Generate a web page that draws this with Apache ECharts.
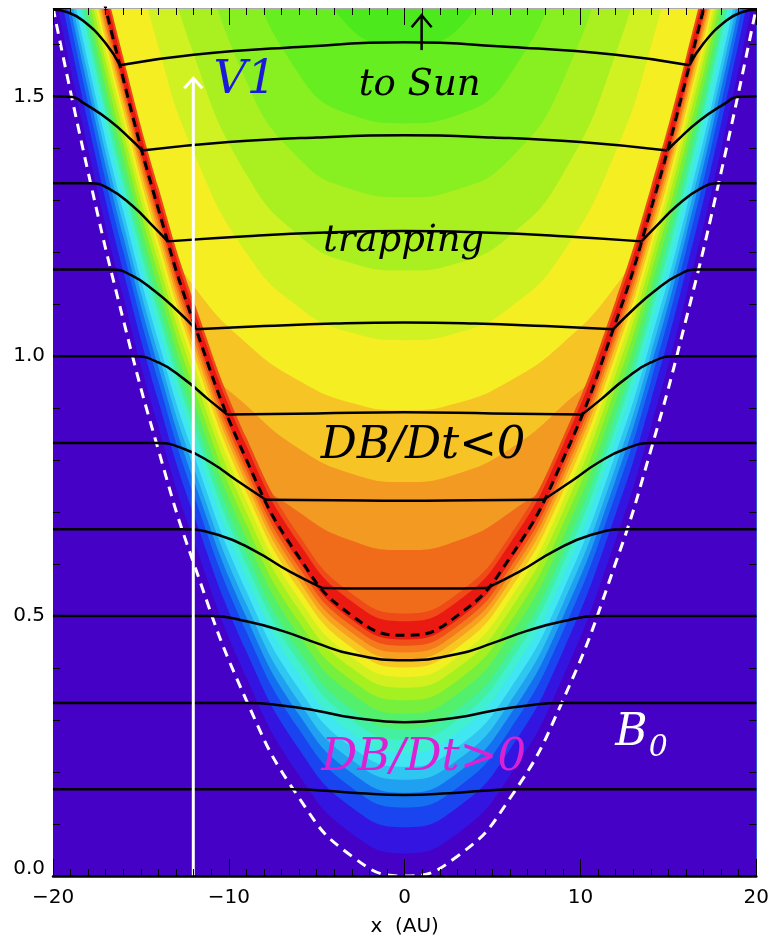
<!DOCTYPE html>
<html><head><meta charset="utf-8">
<script src="https://cdn.jsdelivr.net/npm/echarts@6/dist/echarts.min.js"></script>
<style>html,body{margin:0;padding:0;background:#fff}#c{width:772px;height:942px}</style>
</head><body><div id="c"></div>
<script>
// ---------- data ----------
// x positions (AU) at which each symmetric contour is sampled (right half, mirrored for left)
const halfX = [0, 3, 6, 9, 12, 14, 16, 18, 20];
// white dashed outer boundary
const outerBoundaryY = [0, 0.038, 0.150, 0.338, 0.602, 0.819, 1.070, 1.354, 1.671];
// black dashed trapping boundary
const trapBoundaryY = [0.463, 0.501, 0.613, 0.801, 1.065, 1.282, 1.533, 1.817, 2.134];
// contour levels of the shell between the boundaries (innermost first)
const shellY = [
  [0.505, 0.543, 0.655, 0.843, 1.107, 1.324, 1.575, 1.859, 2.176],
  [0.490, 0.528, 0.640, 0.828, 1.092, 1.309, 1.560, 1.844, 2.161],
  [0.455, 0.493, 0.605, 0.793, 1.057, 1.274, 1.525, 1.809, 2.126],
  [0.443, 0.481, 0.593, 0.781, 1.045, 1.262, 1.513, 1.797, 2.114],
  [0.430, 0.468, 0.580, 0.768, 1.032, 1.249, 1.500, 1.784, 2.101],
  [0.417, 0.455, 0.567, 0.755, 1.019, 1.236, 1.487, 1.771, 2.088],
  [0.401, 0.439, 0.551, 0.739, 1.003, 1.220, 1.471, 1.755, 2.072],
  [0.383, 0.421, 0.533, 0.721, 0.985, 1.202, 1.453, 1.737, 2.054],
  [0.362, 0.400, 0.512, 0.700, 0.964, 1.181, 1.432, 1.716, 2.033],
  [0.338, 0.376, 0.488, 0.676, 0.940, 1.157, 1.408, 1.692, 2.009],
  [0.312, 0.350, 0.462, 0.650, 0.914, 1.131, 1.382, 1.666, 1.983],
  [0.283, 0.321, 0.433, 0.621, 0.885, 1.102, 1.353, 1.637, 1.954],
  [0.262, 0.300, 0.412, 0.600, 0.864, 1.081, 1.332, 1.616, 1.933],
  [0.237, 0.275, 0.387, 0.575, 0.839, 1.056, 1.307, 1.591, 1.908],
  [0.210, 0.248, 0.360, 0.548, 0.812, 1.029, 1.280, 1.564, 1.881],
  [0.185, 0.223, 0.335, 0.523, 0.787, 1.004, 1.255, 1.539, 1.856],
  [0.160, 0.198, 0.310, 0.498, 0.762, 0.979, 1.230, 1.514, 1.831],
  [0.132, 0.170, 0.282, 0.470, 0.734, 0.951, 1.202, 1.486, 1.803],
  [0.094, 0.132, 0.244, 0.432, 0.696, 0.913, 1.164, 1.448, 1.765],
  [0.044, 0.082, 0.194, 0.382, 0.646, 0.863, 1.114, 1.398, 1.715]
];
// contour levels inside the trapping region (lowest first)
const coreY = [
  [0.627, 0.645, 0.700, 0.790, 1.000, 1.200, 1.440, 1.720, 2.030],
  [0.758, 0.774, 0.822, 0.905, 1.010, 1.200, 1.440, 1.720, 2.030],
  [0.896, 0.910, 0.953, 1.025, 1.135, 1.250, 1.460, 1.730, 2.040],
  [1.031, 1.045, 1.094, 1.199, 1.393, 1.595, 1.875, 2.254, 2.754],
  [1.165, 1.179, 1.232, 1.350, 1.581, 1.830, 2.182, 2.650, 3.310],
  [1.306, 1.321, 1.380, 1.529, 1.843, 2.195, 2.700, 3.400, 4.100],
  [1.448, 1.464, 1.542, 1.772, 2.303, 2.900, 3.600, 4.300, 5.000],
  [1.600, 1.628, 1.887, 2.500, 3.300, 4.000, 4.700, 5.400, 6.100]
];
// field lines: left flank up to the boundary, inner part (left half), and low lines
const fieldOuter = [
  [[-20,1.667],[-19.2,1.662],[-18.3,1.646],[-17.0,1.602],[-16.2,1.56]],
  [[-20,1.5],[-18.9,1.499],[-18.3,1.488],[-16.8,1.454],[-15.5,1.415],[-14.94,1.396]],
  [[-20,1.333],[-17.9,1.333],[-16.8,1.322],[-15.5,1.29],[-14.3,1.25],[-13.47,1.221]],
  [[-20,1.167],[-16.7,1.167],[-15.5,1.155],[-14.2,1.125],[-13,1.09],[-11.87,1.052]],
  [[-20,1.0],[-15.5,1.0],[-14,0.988],[-12.5,0.955],[-11.2,0.918],[-10.09,0.888]],
  [[-20,0.833],[-14.1,0.833],[-12.5,0.821],[-11,0.795],[-9.5,0.76],[-7.9,0.724]],
  [[-20,0.667],[-12.65,0.667],[-10.5,0.655],[-8.5,0.625],[-6.5,0.585],[-4.67,0.554]]
];
const fieldInner = [
  [[-16.2,1.56],[-12,1.58],[-6,1.595],[0,1.604]],
  [[-14.94,1.396],[-10,1.412],[-5,1.421],[0,1.425]],
  [[-13.47,1.221],[-9,1.231],[-4.5,1.238],[0,1.241]],
  [[-11.87,1.052],[-8,1.058],[-4,1.063],[0,1.065]],
  [[-10.09,0.888],[-5,0.890],[0,0.892]],
  [[-7.9,0.724],[-4,0.723],[0,0.722]],
  [[-4.67,0.554],[-2,0.553],[0,0.553]]
];
const fieldLow = [
  [[-20,0.5],[-10.95,0.5],[-9,0.49],[-7,0.472],[-5,0.448],[-3,0.427],[0,0.415]],
  [[-20,0.333],[-8.94,0.333],[-7,0.328],[-5,0.318],[-3,0.305],[0,0.296]],
  [[-20,0.167],[-6.3,0.167],[-4.5,0.164],[-2.5,0.159],[0,0.156]]
];
// arrows: [x, yStart, yTip]
const arrowV1 = [-12.02, 0, 1.535];
const arrowSun = [0.966, 1.589, 1.656];
// annotations
const labelTexts = ['V1', 'to Sun', 'trapping', 'DB/Dt<0', 'DB/Dt>0', 'B', '0'];
const labelAnchors = [[-9.09,1.530],[0.85,1.521],[-0.06,1.221],[1.05,0.827],[1.08,0.226],[12.9,0.274],[14.43,0.246]];
// axes
const xTickValues = [-20, -10, 0, 10, 20];
const xTickLabels = ['\u221220', '\u221210', '0', '10', '20'];
const yTickValues = [0, 0.5, 1.0, 1.5];
const yTickLabels = ['0.0', '0.5', '1.0', '1.5'];

// ---------- styles ----------
const coreBaseColor = '#F06C1A';
const coreColors = ['#F29A22','#F7C426','#F4EE22','#D0F222','#AAF020','#88F020','#66EE20','#4CEA1C'];
const shellColors = ['#F04A18','#EA1A12','#F05018','#F47A1C','#F8A020','#F8C822','#F2F020','#D0F020','#A4F020','#76F03C','#52F06C','#42F0A0','#40F0D0','#40E6F2','#30C6F2','#20A0F0','#1470F0','#1A44F0','#3414E0','#4502C6'];
const labelStyles = [
  {font:'italic 46px "DejaVu Serif"', fill:'#1A1AD8'},
  {font:'italic 37px "DejaVu Serif"', fill:'#000'},
  {font:'italic 37px "DejaVu Serif"', fill:'#000'},
  {font:'italic 45px "DejaVu Serif"', fill:'#000'},
  {font:'italic 45px "DejaVu Serif"', fill:'#DA22D4'},
  {font:'italic 44px "DejaVu Serif"', fill:'#fff'},
  {font:'italic 30px "DejaVu Serif"', fill:'#fff'}
];

// ---------- helpers ----------
function profile(ys) {
  const pts = [];
  for (let i = halfX.length - 1; i > 0; i--) pts.push([-halfX[i], ys[i]]);
  for (let i = 0; i < halfX.length; i++) pts.push([halfX[i], ys[i]]);
  return pts;
}
function mirror(pts) { return pts.map(p => [-p[0], p[1]]).reverse(); }
function full(pts) { return pts.concat(mirror(pts).slice(1)); }

const series = [];
let zc = 1;
coreY.forEach((ys, i) => series.push({
  type: 'line', data: profile(ys), smooth: 0.5, symbol: 'none', silent: true, z: zc++,
  lineStyle: {width: 0, opacity: 0}, areaStyle: {color: coreColors[i], opacity: 1, origin: 'end'}
}));
shellY.forEach((ys, i) => series.push({
  type: 'line', data: profile(ys), smooth: 0.5, symbol: 'none', silent: true, z: zc++,
  lineStyle: {width: 0, opacity: 0}, areaStyle: {color: shellColors[i], opacity: 1, origin: 'start'}
}));
series.push({type:'line', data: profile(outerBoundaryY), smooth: 0.5, symbol:'none', silent:true, z: 35,
  lineStyle:{color:'#fff', width:3, type:[10,7]}});
series.push({type:'line', data: profile(trapBoundaryY), smooth: 0.5, symbol:'none', silent:true, z: 36,
  lineStyle:{color:'#000', width:3, type:[9,6]}});
const fl = {type:'line', smooth: 0.5, symbol:'none', silent:true, z: 40, lineStyle:{color:'#000', width:2.5}};
fieldOuter.forEach(p => { series.push(Object.assign({}, fl, {data: p})); series.push(Object.assign({}, fl, {data: mirror(p)})); });
fieldInner.forEach(p => series.push(Object.assign({}, fl, {data: full(p)})));
fieldLow.forEach(p => series.push(Object.assign({}, fl, {data: full(p)})));

function arrowSeries(a, color, width, hw, hh) {
  return {type:'custom', coordinateSystem:'cartesian2d', data:[a], z: 45, silent: true,
    renderItem: (params, api) => {
      const p0 = api.coord([api.value(0), api.value(1)]);
      const p1 = api.coord([api.value(0), api.value(2)]);
      return {type:'group', children:[
        {type:'line', shape:{x1:p0[0], y1:p0[1], x2:p1[0], y2:p1[1]}, style:{stroke:color, lineWidth:width}},
        {type:'polyline', shape:{points:[[p1[0]-hw, p1[1]+hh],[p1[0], p1[1]],[p1[0]+hw, p1[1]+hh]]}, style:{stroke:color, lineWidth:width, fill:null}}
      ]};
    }};
}
series.push(arrowSeries(arrowV1, '#fff', 3, 9, 10));
series.push(arrowSeries(arrowSun, '#000', 2.5, 10, 12));

labelTexts.forEach((t, i) => series.push({
  type:'custom', coordinateSystem:'cartesian2d', data:[labelAnchors[i]], z: 48, silent: true,
  renderItem: (params, api) => {
    const p = api.coord([api.value(0), api.value(1)]);
    return {type:'text', x: p[0], y: p[1], style: {text: t, font: labelStyles[i].font, fill: labelStyles[i].fill, align:'center', verticalAlign:'middle'}};
  }
}));

const tickStyle = {color:'#000', width:1};
const axX = {type:'value', min:-20, max:20, splitLine:{show:false}, z: 60};
const axY = {type:'value', min:0, max:1.67, splitLine:{show:false}, z: 60};
const lblFont = {fontFamily:'DejaVu Sans', fontSize:20, color:'#000'};

const option = {
  animation: false,
  backgroundColor: '#fff',
  grid: {left: 53, right: 15, top: 8, bottom: 66, show: true, backgroundColor: coreBaseColor, borderWidth: 0},
  xAxis: [
    Object.assign({}, axX, {position:'bottom', interval:1, axisLine:{show:false, onZero:false},
      axisTick:{inside:true, length:7, lineStyle:tickStyle}, axisLabel:{show:false}}),
    Object.assign({}, axX, {position:'bottom', interval:10,
      axisLine:{show:true, onZero:false, lineStyle:{color:'#000', width:2.5}},
      axisTick:{inside:true, length:17, lineStyle:tickStyle},
      axisLabel:Object.assign({show:true, margin:12, formatter: v => { const i = xTickValues.indexOf(v); return i >= 0 ? xTickLabels[i] : ''; }}, lblFont),
      name:'x  (AU)', nameLocation:'middle', nameGap:41, nameTextStyle: lblFont}),
    Object.assign({}, axX, {position:'top', interval:1, axisLine:{show:true, onZero:false, lineStyle:{color:'#aaa', width:1}},
      axisTick:{inside:true, length:7, lineStyle:tickStyle}, axisLabel:{show:false}}),
    Object.assign({}, axX, {position:'top', interval:10, axisLine:{show:false, onZero:false},
      axisTick:{inside:true, length:17, lineStyle:tickStyle}, axisLabel:{show:false}})
  ],
  yAxis: [
    Object.assign({}, axY, {position:'left', interval:0.1, axisLine:{show:false, onZero:false},
      axisTick:{inside:true, length:7, lineStyle:tickStyle}, axisLabel:{show:false}}),
    Object.assign({}, axY, {position:'left', interval:0.5, axisLine:{show:false, onZero:false},
      axisTick:{inside:true, length:17, lineStyle:tickStyle},
      axisLabel:Object.assign({show:true, margin:8,
        formatter: v => { const i = yTickValues.findIndex(t => Math.abs(t - v) < 1e-6); if (i < 0) return ''; return i === 0 ? '{lo|' + yTickLabels[i] + '}' : yTickLabels[i]; },
        rich:{lo:Object.assign({padding:[0,0,14,0]}, lblFont)}}, lblFont)}),
    Object.assign({}, axY, {position:'right', interval:0.1, axisLine:{show:false, onZero:false},
      axisTick:{inside:true, length:7, lineStyle:tickStyle}, axisLabel:{show:false}}),
    Object.assign({}, axY, {position:'right', interval:0.5, axisLine:{show:false, onZero:false},
      axisTick:{inside:true, length:17, lineStyle:tickStyle}, axisLabel:{show:false}})
  ],
  series: series
};
const chart = echarts.init(document.getElementById('c'), null, {renderer:'canvas'});
chart.setOption(option);
</script>
</body></html>
